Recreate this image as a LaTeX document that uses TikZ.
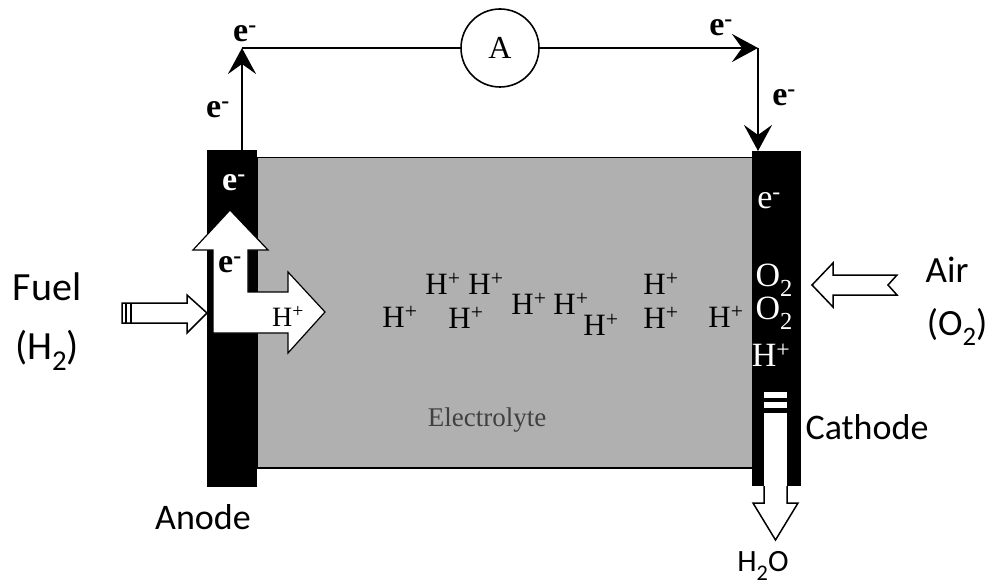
\documentclass[tikz,border=0pt]{standalone}
\usepackage{fontspec}
\usepackage{graphicx}
\setmainfont{Liberation Serif}
\newfontfamily\labelfont{Carlito}
\usetikzlibrary{arrows.meta,positioning}

\newcommand{\lowsub}[1]{\raisebox{-0.28em}{\scalebox{0.72}{#1}}}

\tikzset{
    wire/.style={line width=2.4pt},
    flow/.style={wire, -{Stealth[length=26pt,width=28pt,inset=10pt]}},
    plate/.style={fill=black, inner sep=0pt, anchor=north west},
    hollow/.style={draw=black, fill=white, line width=1.5pt, line join=miter},
    ion/.style={font=\fontsize{34}{36}\selectfont, inner sep=0pt},
    proton/.style={ion, font=\fontsize{31}{33}\selectfont, text height=0.7em, text depth=0pt},
    elec/.style={font=\bfseries\fontsize{34}{36}\selectfont, inner sep=0pt},
    tag/.style={font=\labelfont\fontsize{37}{40}\selectfont, inner sep=0pt},
}

\begin{document}
\begin{tikzpicture}[x=1pt,y=-1pt]
    \useasboundingbox (0,0) rectangle (995,588);

    % 1. Cell: electrolyte between the two electrodes
    \node[plate, draw=black, fill=black!31, line width=1.5pt,
          minimum width=496pt, minimum height=310pt] (electrolyte) at (256,157) {};
    \node[plate, minimum width=50pt, minimum height=337pt] (anode) at (207,150) {};
    \node[plate, minimum width=49pt, minimum height=335pt] (cathode) at (752,151) {};

    % 2. Outer circuit with the ammeter
    \node[circle, draw, line width=1.6pt, minimum size=78pt, inner sep=0pt,
          font=\fontsize{32}{34}\selectfont] (amm) at (500,48) {A};
    \coordinate (topL) at (242,48);
    \coordinate (topR) at (758,48);
    \draw[flow] (anode.north -| topL) -- (topL);
    \draw[wire] (topL) -- (amm.west);
    \draw[flow] (amm.east) -- (topR);
    \draw[flow] (topR) -- (cathode.north -| topR);

    \node[elec] (eTL) at (245,34) {e\textsuperscript{-}};
    \node[elec] (eL) at (218,110) {e\textsuperscript{-}};
    \node[elec] (eTR) at (721,28) {e\textsuperscript{-}};
    \node[elec] (eR) at (784,98) {e\textsuperscript{-}};

    % 3. Anode: electrons up, protons into the electrolyte
    \draw[hollow, line width=1.2pt] (213,333) -- (213,250) -- (193,250) -- (230,210)
        -- (268,250) -- (248,250) -- (248,292) -- (288,292) -- (288,272)
        -- (325,312) -- (288,353) -- (288,333) -- cycle;
    \node[elec, text=white] (eA) at (234,183) {e\textsuperscript{-}};
    \node[elec] (eUp) at (230,265) {e\textsuperscript{-}};
    \node[ion, font=\fontsize{28}{30}\selectfont] (hA) at (288,316) {H\textsuperscript{+}};

    % 4. Fuel in
    \draw[hollow] (122,303) -- (187,303) -- (187,295) -- (207,313)
        -- (187,333) -- (187,323) -- (122,323) -- cycle;
    \draw[line width=2pt] (126,303) -- (126,323);
    \draw[line width=2pt] (131,303) -- (131,323);
    \node[tag, font=\labelfont\fontsize{40}{42}\selectfont] (fuel) at (47,287) {Fuel};
    \node[tag, font=\labelfont\fontsize{40}{42}\selectfont] (fuelgas) at (47,350) {(H\lowsub{2})};

    % 5. Protons crossing the electrolyte
    \foreach \px/\py in {400/324, 443/291, 486/291, 466/325, 529/311,
                         571/311, 601/332, 661/291, 661/325, 726/324}
        \node[proton] at (\px,\py) {H\textsuperscript{+}};
    \node[ion, font=\fontsize{27}{29}\selectfont, text=black!75] (elyte) at (487,420) {Electrolyte};

    % 6. Cathode: air in, water out
    \node[ion, text=white] (eC) at (769,201) {e\textsuperscript{-}};
    \node[ion, text=white] (oxA) at (774,280) {O\lowsub{2}};
    \node[ion, text=white] (oxB) at (774,313) {O\lowsub{2}};
    \node[ion, text=white] (hC) at (771,355) {H\textsuperscript{+}};
    \fill[white] (764,392) rectangle (787,398);
    \fill[white] (764,402) rectangle (787,408);
    \fill[white] (764,413) rectangle (787,487);
    \draw[hollow] (764,486) -- (764,503) -- (753,503) -- (775.5,540)
        -- (798,503) -- (787,503) -- (787,486);

    \draw[hollow] (812,285) -- (833,263) -- (833,275) -- (897,275) -- (888,285)
        -- (897,295) -- (833,295) -- (833,307) -- cycle;
    \node[tag] (air) at (947,270) {Air};
    \node[tag] (airgas) at (957,327) {(O\lowsub{2})};

    % Labels
    \node[tag, font=\labelfont\fontsize{36}{40}\selectfont] (anodelbl) at (203,517) {Anode};
    \node[tag, font=\labelfont\fontsize{36}{40}\selectfont] (cathodelbl) at (867,427) {Cathode};
    \node[tag, font=\labelfont\fontsize{31}{34}\selectfont] (water) at (763,566) {H\lowsub{2}O};
\end{tikzpicture}
\end{document}
